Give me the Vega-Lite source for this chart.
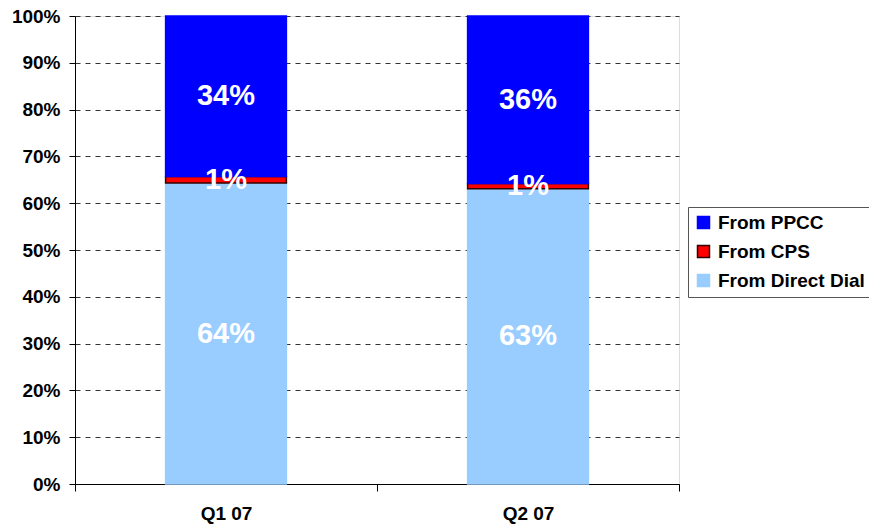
{
  "$schema": "https://vega.github.io/schema/vega-lite/v6.json",
  "width": 604,
  "height": 468,
  "autosize": {"type": "none"},
  "padding": {"left": 75, "top": 16, "right": 190, "bottom": 43},
  "background": "white",
  "data": {
    "values": [
      {"quarter": "Q1 07", "series": "From Direct Dial", "rank": 1, "value": 64.3, "label": "64%"},
      {"quarter": "Q1 07", "series": "From CPS", "rank": 2, "value": 1.4, "label": "1%"},
      {"quarter": "Q1 07", "series": "From PPCC", "rank": 3, "value": 34.3, "label": "34%"},
      {"quarter": "Q2 07", "series": "From Direct Dial", "rank": 1, "value": 63.1, "label": "63%"},
      {"quarter": "Q2 07", "series": "From CPS", "rank": 2, "value": 1.1, "label": "1%"},
      {"quarter": "Q2 07", "series": "From PPCC", "rank": 3, "value": 35.8, "label": "36%"}
    ]
  },
  "transform": [
    {"stack": "value", "groupby": ["quarter"], "sort": [{"field": "rank"}], "offset": "normalize", "as": ["v0", "v1"]},
    {"calculate": "(datum.v0 + datum.v1) / 2", "as": "vmid"}
  ],
  "encoding": {
    "x": {
      "field": "quarter",
      "type": "nominal",
      "scale": {"paddingInner": 0, "paddingOuter": 0},
      "axis": {
        "title": null,
        "labelAngle": 0,
        "tickBand": "extent",
        "labelFont": "Liberation Sans",
        "labelFontWeight": "bold",
        "labelFontSize": 19,
        "labelColor": "black",
        "labelPadding": 13,
        "domainColor": "black",
        "tickColor": "black",
        "tickSize": 7,
        "grid": false
      }
    }
  },
  "layer": [
    {
      "mark": {"type": "bar", "width": {"band": 0.4}, "strokeWidth": 1.5},
      "encoding": {
        "y": {
          "field": "v0",
          "type": "quantitative",
          "scale": {"domain": [0, 1], "nice": false},
          "axis": {
            "title": null,
            "format": ".0%",
            "values": [0, 0.1, 0.2, 0.3, 0.4, 0.5, 0.6, 0.7, 0.8, 0.9, 1.0],
            "labelFont": "Liberation Sans",
            "labelFontWeight": "bold",
            "labelFontSize": 19,
            "labelColor": "black",
            "labelPadding": 9,
            "tickSize": 6,
            "tickColor": "black",
            "domainColor": "black",
            "grid": true,
            "gridColor": "#333333",
            "gridDash": [5, 5],
            "gridWidth": 1
          }
        },
        "y2": {"field": "v1"},
        "fill": {
          "field": "series",
          "type": "nominal",
          "scale": {
            "domain": ["From PPCC", "From CPS", "From Direct Dial"],
            "range": ["#0000FF", "#FF0000", "#99CCFF"]
          },
          "legend": {
            "title": null,
            "orient": "none",
            "legendX": 613,
            "legendY": 191,
            "strokeColor": "#555555",
            "padding": 6,
            "symbolType": "square",
            "symbolSize": 144,
            "symbolStrokeWidth": 1.5,
            "labelFont": "Liberation Sans",
            "labelFontWeight": "bold",
            "labelFontSize": 19,
            "labelColor": "black",
            "rowPadding": 9,
            "labelOffset": 5
          }
        },
        "stroke": {
          "field": "series",
          "type": "nominal",
          "scale": {
            "domain": ["From PPCC", "From CPS", "From Direct Dial"],
            "range": ["#0000FF", "#330000", "#99CCFF"]
          }
        }
      }
    },
    {
      "mark": {"type": "text", "font": "Liberation Sans", "fontWeight": "bold", "fontSize": 29, "color": "white", "baseline": "middle"},
      "encoding": {
        "y": {"field": "vmid", "type": "quantitative"},
        "text": {"field": "label"}
      }
    }
  ]
}
